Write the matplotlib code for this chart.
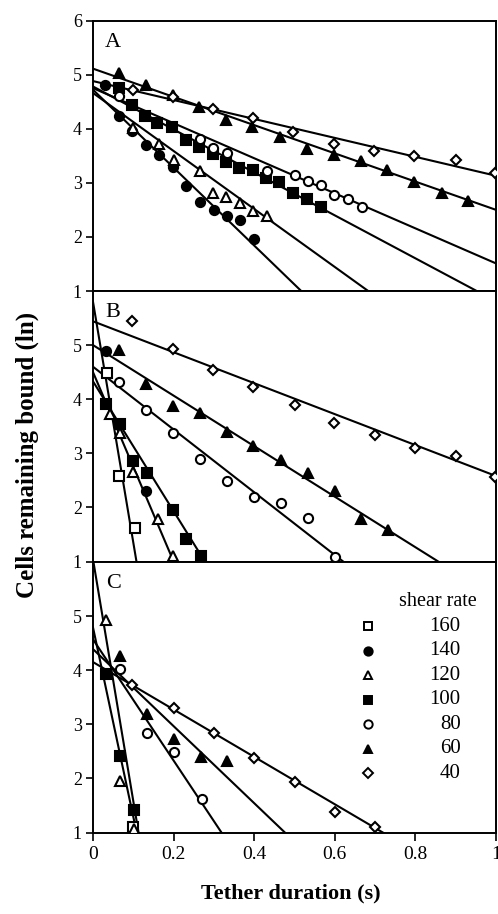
import numpy as np
import matplotlib
matplotlib.use("Agg")
import matplotlib.pyplot as plt

plt.rcParams['font.family'] = ['Liberation Serif', 'DejaVu Serif']

shear_rates = ["160", "140", "120", "100", "80", "60", "40"]
markers = {"160": ("s", "white"), "140": ("o", "black"), "120": ("^", "white"),
           "100": ("s", "black"), "80": ("o", "white"), "60": ("^", "black"),
           "40": ("D", "white")}

# ---------------- Panel A ----------------
A_x = {
    "140": [0.030, 0.065, 0.096, 0.131, 0.165, 0.198, 0.231, 0.266, 0.300, 0.332, 0.365, 0.400],
    "120": [0.099, 0.165, 0.200, 0.266, 0.297, 0.330, 0.365, 0.398, 0.433],
    "100": [0.065, 0.096, 0.129, 0.158, 0.195, 0.231, 0.264, 0.297, 0.330, 0.363, 0.396, 0.429, 0.462, 0.496, 0.530, 0.565],
    "80": [0.065, 0.266, 0.299, 0.332, 0.433, 0.500, 0.533, 0.566, 0.599, 0.632, 0.667],
    "60": [0.065, 0.131, 0.199, 0.263, 0.329, 0.395, 0.464, 0.532, 0.598, 0.664, 0.730, 0.797, 0.865, 0.931],
    "40": [0.099, 0.199, 0.299, 0.398, 0.497, 0.598, 0.697, 0.797, 0.900, 0.998],
}
A_y = {
    "140": [4.80, 4.24, 3.95, 3.70, 3.52, 3.30, 2.94, 2.65, 2.50, 2.39, 2.31, 1.96],
    "120": [4.02, 3.72, 3.42, 3.22, 2.82, 2.74, 2.62, 2.47, 2.38],
    "100": [4.75, 4.44, 4.23, 4.11, 4.04, 3.80, 3.67, 3.54, 3.39, 3.27, 3.23, 3.09, 3.01, 2.82, 2.70, 2.56],
    "80": [4.60, 3.81, 3.64, 3.56, 3.22, 3.15, 3.04, 2.96, 2.78, 2.70, 2.56],
    "60": [5.03, 4.81, 4.62, 4.41, 4.17, 4.03, 3.85, 3.62, 3.52, 3.41, 3.23, 3.02, 2.82, 2.67],
    "40": [4.72, 4.58, 4.36, 4.20, 3.93, 3.72, 3.58, 3.49, 3.43, 3.18],
}
A_fit = {"140": (4.72, -7.20), "120": (4.66, -5.36), "100": (4.78, -3.97),
         "80": (4.75, -3.24), "60": (5.11, -2.61), "40": (4.88, -1.75)}

# ---------------- Panel B ----------------
B_x = {
    "160": [0.035, 0.064, 0.103],
    "140": [0.033, 0.132],
    "120": [0.041, 0.066, 0.099, 0.161, 0.199],
    "100": [0.033, 0.066, 0.099, 0.135, 0.199, 0.232, 0.268],
    "80": [0.065, 0.131, 0.199, 0.266, 0.333, 0.400, 0.467, 0.534, 0.600],
    "60": [0.065, 0.131, 0.199, 0.266, 0.332, 0.398, 0.466, 0.534, 0.600, 0.666, 0.732],
    "40": [0.098, 0.199, 0.299, 0.398, 0.500, 0.599, 0.700, 0.799, 0.900, 0.998],
}
B_y = {
    "160": [4.48, 2.58, 1.62],
    "140": [4.89, 2.30],
    "120": [3.72, 3.38, 2.65, 1.79, 1.10],
    "100": [3.91, 3.54, 2.86, 2.64, 1.96, 1.41, 1.11],
    "80": [4.32, 3.80, 3.37, 2.90, 2.49, 2.20, 2.09, 1.80, 1.09],
    "60": [4.91, 4.28, 3.88, 3.74, 3.39, 3.14, 2.88, 2.64, 2.30, 1.79, 1.59],
    "40": [5.45, 4.93, 4.54, 4.22, 3.89, 3.56, 3.34, 3.09, 2.95, 2.56],
}
B_fit = {"160": (5.80, -44.5), "120": (4.50, -17.5), "100": (4.33, -12.0),
         "80": (4.60, -5.80), "60": (5.00, -4.67), "40": (5.44, -2.86)}

# ---------------- Panel C ----------------
C_x = {
    "160": [0.100],
    "120": [0.033, 0.066, 0.102],
    "100": [0.033, 0.066, 0.102],
    "80": [0.068, 0.135, 0.201, 0.270],
    "60": [0.066, 0.135, 0.201, 0.267, 0.333],
    "40": [0.098, 0.201, 0.301, 0.400, 0.501, 0.600, 0.700],
}
C_y = {
    "160": [1.10],
    "120": [4.93, 1.95, 1.06],
    "100": [3.93, 2.41, 1.41],
    "80": [4.02, 2.83, 2.49, 1.62],
    "60": [4.26, 3.19, 2.72, 2.40, 2.32],
    "40": [3.73, 3.30, 2.83, 2.38, 1.94, 1.38, 1.10],
}
C_fit = {"120": (6.05, -44.7), "100": (4.79, -35.0), "80": (4.57, -11.2),
         "60": (4.39, -7.12), "40": (4.15, -4.38)}

x_ticks = [0, 0.2, 0.4, 0.6, 0.8, 1]
x_tick_labels = ["0", "0.2", "0.4", "0.6", "0.8", "1"]

fig = plt.figure(figsize=(4.98, 9.14), dpi=100)
left, width = 93 / 498, 403 / 498
ph = 270.5 / 914
bottoms = [1 - 291 / 914, 1 - 561.5 / 914, 1 - 832.5 / 914]
panels = [("A", A_x, A_y, A_fit, [1, 2, 3, 4, 5, 6]),
          ("B", B_x, B_y, B_fit, [1, 2, 3, 4, 5]),
          ("C", C_x, C_y, C_fit, [1, 2, 3, 4, 5])]

xs_line = np.linspace(0, 1, 400)
for i, (letter, px, py, fits, yt) in enumerate(panels):
    ax = fig.add_axes([left, bottoms[i], width, ph])
    ax.set_xlim(0, 1)
    ax.set_ylim(1, 6)
    for k, (b0, b1) in fits.items():
        ax.plot(xs_line, b0 + b1 * xs_line, color="black", lw=1.5, zorder=2)
    for k in shear_rates:
        if k in px:
            m, fc = markers[k]
            ms = 5.2 if m == "D" else 6.6
            ax.plot(px[k], py[k], linestyle="none", marker=m, ms=ms,
                    mfc=fc, mec="black", mew=1.5, zorder=3)
    for s in ax.spines.values():
        s.set_linewidth(1.4)
    ax.set_yticks(yt)
    ax.set_yticklabels([str(v) for v in yt], fontsize=13)
    ax.tick_params(axis="y", direction="out", length=5, width=1.2, pad=3)
    if i < 2:
        ax.set_xticks([])
    else:
        ax.set_xticks(x_ticks)
        ax.set_xticklabels(x_tick_labels, fontsize=14)
        ax.tick_params(axis="x", direction="out", length=6, width=1.2, pad=4)
    ax.text(0.05, 0.92, letter, transform=ax.transAxes, fontsize=16,
            ha="center", va="center")
    if letter == "C":
        ax.text(0.857, 0.853, "shear rate", transform=ax.transAxes,
                fontsize=14.5, ha="center", va="center")
        for j, k in enumerate(shear_rates):
            yy = 0.763 - j * 0.0906
            m, fc = markers[k]
            ms = 5.0 if m == "D" else 6.0
            ax.plot([0.683], [yy], transform=ax.transAxes, linestyle="none",
                    marker=m, ms=ms, mfc=fc, mec="black", mew=1.4)
            ax.text(0.912, yy, k, transform=ax.transAxes, fontsize=15,
                    ha="right", va="center")

fig.text(0.054, 0.502, "Cells remaining bound (ln)", rotation=90, fontsize=18,
         fontweight="bold", ha="center", va="center")
fig.text(0.583, 1 - 893 / 914, "Tether duration (s)", fontsize=16,
         fontweight="bold", ha="center", va="center")

fig.savefig("out.png", dpi=100)
